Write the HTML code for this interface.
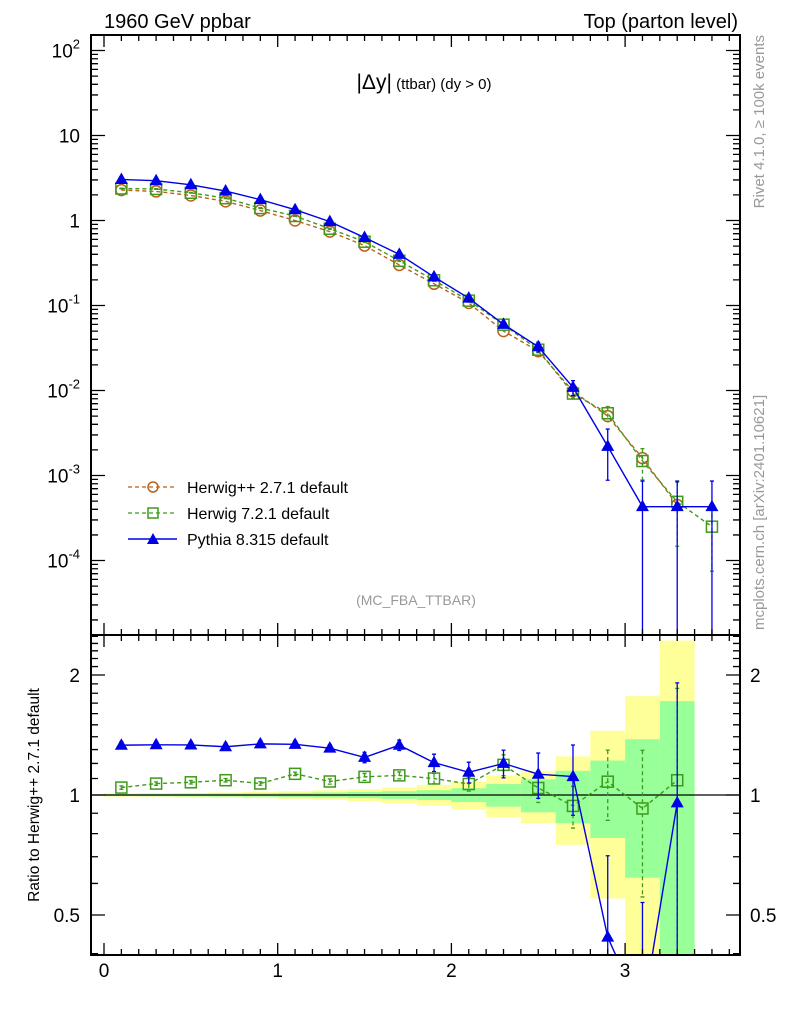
<!DOCTYPE html>
<html><head><meta charset="utf-8"><style>
html,body{margin:0;background:#fff;overflow:hidden;width:786px;height:1024px;}
svg{display:block;}
svg text{font-family:"Liberation Sans",Arial,sans-serif;}
</style></head><body>
<svg id="c" width="786" height="1024" xmlns="http://www.w3.org/2000/svg">
<text x="104" y="28" font-size="20">1960 GeV ppbar</text>
<text x="738" y="28" font-size="20" text-anchor="end">Top (parton level)</text>
<text x="424" y="89" font-size="21" text-anchor="middle">|Δy|<tspan font-size="15"> (ttbar) (dy &gt; 0)</tspan></text>
<text x="416" y="605" font-size="14" fill="#999" text-anchor="middle">(MC_FBA_TTBAR)</text>
<text transform="translate(764,35) rotate(-90)" font-size="15" fill="#999" text-anchor="end">Rivet 4.1.0, ≥ 100k events</text>
<text transform="translate(764,630) rotate(-90)" font-size="15" fill="#999">mcplots.cern.ch [arXiv:2401.10621]</text>
<text transform="translate(39,795) rotate(-90)" font-size="15.5" text-anchor="middle">Ratio to Herwig++ 2.7.1 default</text>
<g id="bands"></g><g id="marks"></g><g id="axes"></g>
<g>
<g><line x1="128" y1="487" x2="177" y2="487" stroke="#b8621b" stroke-width="1.3" stroke-dasharray="4,3"/><circle cx="153" cy="487" r="5" fill="none" stroke="#b8621b" stroke-width="1.5"/><text x="187" y="493" font-size="16">Herwig++ 2.7.1 default</text></g>
<g><line x1="128" y1="513" x2="177" y2="513" stroke="#3e9a1a" stroke-width="1.3" stroke-dasharray="4,3"/><rect x="148" y="508" width="10" height="10" fill="none" stroke="#3e9a1a" stroke-width="1.5"/><text x="187" y="519" font-size="16">Herwig 7.2.1 default</text></g>
<g><line x1="128" y1="539" x2="177" y2="539" stroke="#0000e6" stroke-width="1.5"/><path d="M153,533 L159,544 L147,544 Z" fill="#0000e6"/><text x="187" y="545" font-size="16">Pythia 8.315 default</text></g>
</g>
</svg>
<script>
const xCenters=[0.1,0.3,0.5,0.7,0.9,1.1,1.3,1.5,1.7,1.9,2.1,2.3,2.5,2.7,2.9,3.1,3.3,3.5];
const herwigpp=[2.28,2.2,1.97,1.68,1.31,1.0,0.74,0.507,0.30,0.18,0.107,0.050,0.029,0.0098,0.005,0.0016,0.00045,null];
const herwig7=[2.38,2.35,2.12,1.83,1.40,1.13,0.80,0.563,0.336,0.198,0.114,0.0595,0.0302,0.0092,0.0054,0.00148,0.00049,0.00025];
const pythia=[3.04,2.94,2.63,2.22,1.76,1.34,0.97,0.63,0.40,0.217,0.122,0.060,0.0327,0.0109,0.0022,0.00043,0.00043,0.00043];
const herwig7RelErr=[0.01,0.01,0.01,0.01,0.01,0.01,0.015,0.02,0.02,0.03,0.04,0.06,0.08,0.12,0.2,0.4,0.7,0.7];
const pythiaRelErr=[0.02,0.02,0.02,0.02,0.02,0.02,0.02,0.03,0.03,0.05,0.06,0.08,0.13,0.2,0.6,1.0,1.0,1.0];
const bandLo=[0,0.2,0.4,0.6,0.8,1.0,1.2,1.4,1.6,1.8,2.0,2.2,2.4,2.6,2.8,3.0,3.2];
const statBand=[0.006,0.007,0.008,0.009,0.01,0.012,0.015,0.018,0.022,0.028,0.04,0.065,0.095,0.15,0.22,0.38,0.72];
const totBand=[0.01,0.01,0.012,0.015,0.018,0.022,0.028,0.035,0.045,0.06,0.08,0.12,0.15,0.25,0.45,0.77,1.44];
const xTicks=[0,1,2,3];
const mainTickLabels=["10²","10","1","10⁻¹","10⁻²","10⁻³","10⁻⁴"];
const mainTickExp=[2,1,0,-1,-2,-3,-4];
const ratioTicks=[0.5,1,2];

const NS="http://www.w3.org/2000/svg";
const L=91,R=740,MT=35,MB=635,RT=635,RB=955;
const X=v=>104+173.7*v;
const Y=v=>220.5-85*Math.log10(v);
const RY=r=>795-120*Math.log2(r);
function mk(p,t,a){const e=document.createElementNS(NS,t);for(const k in a)e.setAttribute(k,a[k]);p.appendChild(e);return e;}
const bands=document.getElementById('bands'),marks=document.getElementById('marks'),axes=document.getElementById('axes');
const cl=v=>Math.max(RT,Math.min(RB,v));
function rband(arr,col,name){for(let i=0;i<bandLo.length;i++){const top=cl(RY(1+arr[i])),bot=cl(1-arr[i]>0?RY(1-arr[i]):RB);
const r=mk(bands,'rect',{x:X(bandLo[i]),y:top,width:X(bandLo[i]+0.2)-X(bandLo[i]),height:bot-top,fill:col});

}}
rband(totBand,'#ffff99','ratio-total-band');
rband(statBand,'#99ff99','ratio-stat-band');
mk(bands,'line',{x1:L,x2:R,y1:RY(1),y2:RY(1),stroke:'#000','stroke-width':1.2});
const defs=mk(marks,'defs',{});
const c1=mk(defs,'clipPath',{id:'cm'});mk(c1,'rect',{x:L,y:MT,width:R-L,height:MB-MT});
const c2=mk(defs,'clipPath',{id:'cr'});mk(c2,'rect',{x:L,y:RT,width:R-L,height:RB-RT});
const gm=mk(marks,'g',{'clip-path':'url(#cm)'}),gr=mk(marks,'g',{'clip-path':'url(#cr)'});
function series(g,vals,rel,col,dash,shape,name,yf,bottom){
  let pts=[];for(let i=0;i<xCenters.length;i++){if(vals[i]==null)continue;const v=yf(i);if(v==null)continue;pts.push([X(xCenters[i]),v,i]);}
  const ln=mk(g,'polyline',{points:pts.map(p=>p[0]+','+Math.min(p[1].y,1015)).join(' '),fill:'none',stroke:col,'stroke-width':1.4});
  if(dash)ln.setAttribute('stroke-dasharray','4,3');
  
  
  for(const p of pts){const x=p[0],o=p[1];
    if(o.hi!=null){const e=mk(g,'path',{d:`M${x},${o.hi}V${o.lo}M${x-2},${o.hi}h4M${x-2},${o.lo}h4`,stroke:col,'stroke-width':1.3,fill:'none'});if(dash)e.setAttribute('stroke-dasharray','4,3');}
    if(o.y>bottom+8)continue;
    let m;
    if(shape==='c')m=mk(g,'circle',{cx:x,cy:o.y,r:5.5,fill:'none',stroke:col,'stroke-width':1.5});
    else if(shape==='s')m=mk(g,'rect',{x:x-5.5,y:o.y-5.5,width:11,height:11,fill:'none',stroke:col,'stroke-width':1.5});
    else m=mk(g,'path',{d:`M${x},${o.y-7}L${x+6.5},${o.y+4.5}L${x-6.5},${o.y+4.5}Z`,fill:col});
    
    }
}
function mainF(vals,rel){return i=>{const v=vals[i];if(v==null)return null;const e=rel?rel[i]*v:0;return {y:Y(v),hi:rel?Y(v+e):null,lo:rel?(v-e>0?Y(v-e):MB+5):null};};}
function ratF(vals,rel){return i=>{const h=herwigpp[i],v=vals[i];if(h==null||v==null)return null;const r=v/h,e=rel?rel[i]*r:0;return {y:r>0?RY(r):RB+20,hi:rel?RY(r+e):null,lo:rel?(r-e>0?Math.min(RY(r-e),RB+20):RB+20):null};};}
series(gm,herwigpp,null,'#b8621b',true,'c','herwigpp-main',mainF(herwigpp,null),MB);
series(gm,herwig7,herwig7RelErr,'#3e9a1a',true,'s','herwig7-main',mainF(herwig7,herwig7RelErr),MB);
series(gm,pythia,pythiaRelErr,'#0000e6',false,'t','pythia-main',mainF(pythia,pythiaRelErr),MB);
series(gr,herwig7,herwig7RelErr,'#3e9a1a',true,'s','herwig7-ratio',ratF(herwig7,herwig7RelErr),RB);
series(gr,pythia,pythiaRelErr,'#0000e6',false,'t','pythia-ratio',ratF(pythia,pythiaRelErr),RB);
mk(axes,'rect',{x:L,y:MT,width:R-L,height:MB-MT,fill:'none',stroke:'#000','stroke-width':2});
mk(axes,'rect',{x:L,y:RT,width:R-L,height:RB-RT,fill:'none',stroke:'#000','stroke-width':2});
let d='';
for(let k=-1;k<=36;k++){const v=k/10;const x=X(v);if(x<L||x>R)continue;const len=(k%10===0)?12:6;
 d+=`M${x},${MT}v${len}M${x},${MB}v${-len}M${x},${RT}v${len}M${x},${RB}v${-len}`;}
for(let e=-5;e<=2;e++)for(let m=1;m<=9;m++){const y=Y(m*Math.pow(10,e));if(y<MT||y>MB)continue;const len=m===1?14:7;d+=`M${L},${y}h${len}M${R},${y}h${-len}`;}
for(let k=4;k<=25;k++){const r=k/10;const y=RY(r);if(y<RT||y>RB)continue;const len=(r===0.5||r===1||r===2)?14:7;d+=`M${L},${y}h${len}M${R},${y}h${-len}`;}
mk(axes,'path',{d:d,stroke:'#000','stroke-width':1.3,fill:'none'});
xTicks.forEach(v=>{const t=mk(axes,'text',{x:X(v),y:977,'font-size':19,'text-anchor':'middle'});t.textContent=v;

});
mainTickExp.forEach((e,i)=>{const t=mk(axes,'text',{x:80,y:Y(Math.pow(10,e))+7,'font-size':19,'text-anchor':'end'});
 if(e===0||e===1)t.textContent=mainTickLabels[i];else{t.textContent='10';const s=mk(t,'tspan',{dy:-9,'font-size':13});s.textContent=String(e);}

});
ratioTicks.forEach(r=>{[[80,'end'],[750,'start']].forEach(([x,a])=>{const t=mk(axes,'text',{x:x,y:RY(r)+7,'font-size':19,'text-anchor':a});t.textContent=r;

});});
</script>
</body></html>
